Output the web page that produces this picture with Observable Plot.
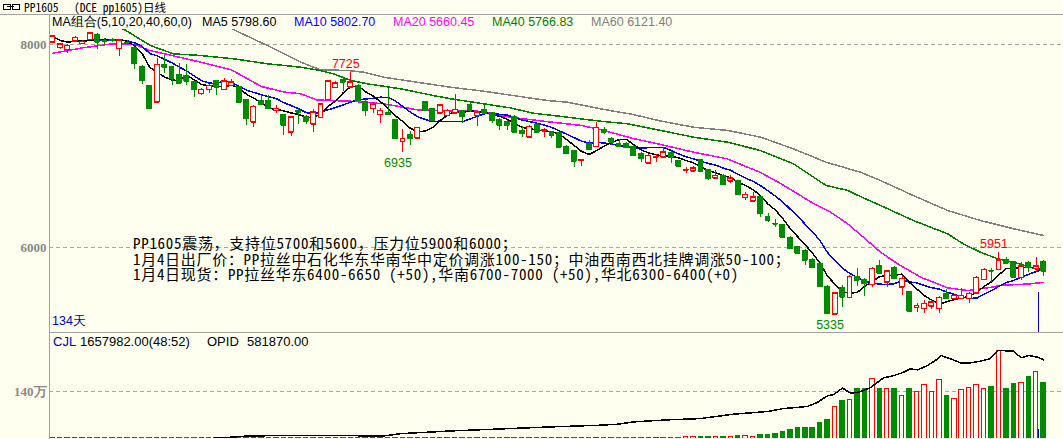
<!DOCTYPE html>
<html><head><meta charset="utf-8">
<script src="https://cdn.jsdelivr.net/npm/d3@7"></script>
<script src="https://cdn.jsdelivr.net/npm/@observablehq/plot@0.6"></script>
<style>
html,body{margin:0;padding:0;background:#FFFFF0;}
#wrap{position:relative;width:1063px;height:439px;background:#FFFFF0;overflow:hidden;font-family:"Liberation Sans",Arial,sans-serif;}
.abs{position:absolute;white-space:pre;line-height:1;}
#wrap svg{position:absolute;left:0;shape-rendering:crispEdges;}
.mono{font-family:"Noto Sans Mono CJK SC","Noto Sans CJK SC",monospace;}
</style></head><body><div id="wrap"></div>
<script>
// ---------------- data ----------------
const open  = [8025,7973,7949,8037,8012,8052,8096,8037,8047,7963,8022,7970,7786,7599,7436,7803,7786,7707,7697,7631,
7517,7557,7641,7557,7599,7589,7458,7237,7444,7451,7352,7310,7139,7352,7293,7215,7281,7458,7576,7655,
7582,7599,7434,7369,7313,7326,7261,7047,7116,7080,7434,7369,7326,7303,7326,7352,7402,7303,7359,7326,
7261,7244,7287,7149,7090,7212,7149,7139,7129,6998,6949,6857,7024,6998,7162,7074,7024,7024,6998,6926,
6833,6890,6893,6932,6853,6764,6755,6867,6768,6686,6712,6656,6656,6492,6459,6498,6308,6239,6220,6098,
6006,5973,5882,5842,5618,5345,5606,5507,5717,5678,5638,5816,5661,5803,5612,5563,5409,5399,5422,5399,
5547,5497,5497,5497,5553,5685,5774,5783,5882,5858,5704,5849,5793,5858];
const high  = [8085,8012,8003,8081,8042,8121,8111,8062,8062,8052,8042,7973,7796,7599,7865,7897,7791,7813,7806,7638,
7569,7609,7648,7665,7655,7589,7461,7402,7500,7500,7402,7313,7293,7362,7303,7359,7412,7648,7638,7668,
7725,7609,7451,7434,7372,7566,7264,7162,7149,7185,7441,7372,7412,7362,7510,7352,7434,7343,7402,7333,
7274,7254,7303,7195,7205,7225,7175,7146,7136,7008,6958,6867,7057,7237,7182,7090,7067,7040,7008,6942,
6919,6919,6991,6952,6860,6794,6801,6870,6771,6761,6722,6712,6663,6548,6545,6505,6338,6276,6229,6111,
6013,5983,5895,5855,5628,5560,5628,5727,5793,5697,5806,5875,5776,5816,5727,5569,5448,5481,5481,5520,
5586,5540,5596,5560,5717,5796,5793,5951,5908,5865,5855,5868,5908,5875];
const low   = [8015,7958,7914,8022,8003,8047,7958,7993,8027,7885,8003,7752,7609,7367,7431,7717,7599,7618,7599,7484,
7496,7520,7500,7554,7589,7431,7205,7188,7407,7367,7326,7106,7096,7215,7215,7139,7274,7451,7569,7543,
7579,7446,7293,7326,7227,7308,7072,6935,7008,7077,7343,7249,7323,7293,7323,7225,7348,7195,7323,7225,
7155,7155,7136,7090,7082,7136,7090,7074,6988,6919,6788,6804,6958,6993,7116,7008,6993,6983,6904,6843,
6830,6843,6890,6827,6796,6729,6742,6752,6663,6683,6614,6630,6520,6466,6456,6295,6249,6197,6101,5983,
5944,5826,5796,5614,5340,5335,5415,5500,5618,5520,5606,5747,5612,5692,5530,5372,5366,5350,5389,5350,
5495,5491,5491,5448,5550,5678,5661,5781,5846,5707,5678,5760,5760,5717];
const close = [8082,8003,7993,8067,8032,8116,8027,8035,8042,8045,8017,7813,7648,7369,7803,7779,7665,7621,7641,7557,
7557,7599,7582,7641,7631,7434,7271,7392,7412,7369,7369,7205,7287,7336,7247,7336,7412,7641,7621,7631,
7631,7451,7352,7409,7352,7310,7074,7074,7074,7182,7352,7254,7402,7352,7359,7293,7352,7336,7326,7254,
7205,7205,7139,7123,7195,7139,7162,7106,6991,6926,6853,6863,6965,7182,7139,7040,6998,6985,6909,6877,
6909,6896,6942,6886,6801,6771,6784,6755,6680,6712,6623,6686,6525,6525,6498,6335,6269,6232,6104,5990,
5947,5875,5803,5618,5350,5553,5513,5717,5678,5645,5793,5750,5770,5694,5694,5375,5431,5448,5464,5507,
5497,5530,5530,5547,5704,5783,5767,5875,5849,5710,5816,5803,5816,5770];
const volume = [5000,4000,4000,5000,4000,6000,5000,4000,4000,6000,5000,7000,7000,8000,8000,7000,6000,6000,6000,7000,
6000,6000,6000,7000,6000,8000,9000,9000,8000,8000,7000,9000,9000,8000,8000,9000,9000,10000,9000,9000,
10000,10000,10000,9000,10000,10000,12000,13000,12000,12000,14000,13000,12000,12000,13000,12000,12000,13000,12000,13000,
14000,14000,15000,15000,15000,15000,16000,16000,18000,18000,20000,19000,20000,22000,24000,25000,24000,25000,26000,27000,
26000,27000,28000,28000,29000,30000,30000,32000,34000,36000,45000,45000,75000,75000,45000,105000,105000,135000,205000,247000,
325000,325000,325000,476000,566000,948000,1129000,1159000,1460000,1460000,1782000,1460000,1481000,1460000,1280000,1460000,1379000,1581000,1400000,1752000,
1280000,1180000,1430000,1511000,1581000,1481000,1530000,2604000,1460000,1611000,1662000,1831000,1981000,1657982];

// moving averages (index, value)
const ma20Idx = [0,4,8,11,13,17,20,24,28,31,33.3,35.5,40,44.4,48.9,53.4,57,61.4,65.9,71,73.5,77.9,81.6,86,90.5,95,97.7,99.9,102.1,104.4,106.7,108.8,111.1,113.4,116.5,120.1,122.8,125.5,127.2,131.2,133];
const ma20Val = [7917,7970,8010,8003,7944,7878,7826,7752,7589,7535,7517,7456,7444,7419,7360,7346,7346,7287,7247,7205,7165,7077,7018,6942,6877,6742,6633,6535,6436,6351,6236,6104,5957,5842,5710,5606,5579,5606,5629,5645,5660.45];
const ma40Idx = [7.7,9.8,13.1,16.2,19.8,24.3,28.8,33.3,35.9,37.7,40,42.2,46.7,51.1,53.4,57.8,61.4,64.5,69.1,73.5,77.1,81.6,86,90.6,95,99.4,103.8,106.7,108.4,111.1,115.5,120.1,122.2,124.5,126.8,129,133];
const ma40Val = [8220,8141,7993,7911,7895,7862,7813,7779,7747,7714,7648,7616,7566,7500,7468,7419,7379,7326,7287,7247,7222,7156,7090,7040,6958,6828,6614,6565,6505,6417,6269,6138,6039,5957,5892,5858,5766.83];
const ma60Idx = [21.8,24.5,28.8,30.6,33.3,35.9,39.6,41.7,44.4,48.9,53.4,57.8,61.8,66.4,69.1,73.5,77.9,81.6,86,90.6,95,99.4,103.8,108.4,111.1,115.5,120.1,124.5,129,133];
const ma60Val = [8259,8141,7993,7927,7829,7754,7747,7730,7681,7631,7582,7543,7500,7451,7434,7369,7313,7249,7188,7156,7090,6975,6843,6745,6663,6515,6368,6269,6187,6121.4];
const oiIdx = [0,11.7,21.6,24.3,26.1,33.3,44.4,46.7,53.4,60.1,66.8,73.5,75.8,78,80.2,82.5,86.9,91.4,95.9,98.1,101.3,102.6,104,104.8,106,107.1,108.4,109.8,111.5,112.9,114.2,115.1,116.1,117.4,118.8,119.2,120.5,121.8,123.2,124.5,125.8,126.9,128.9,130,131,132.2,133];
const oiVal = [1000,1500,1500,11000,18600,23800,18600,35700,55800,70700,85600,98200,105700,122800,130200,137700,147300,180100,199400,221700,236600,266400,316200,323700,373500,333400,346000,378000,448000,465100,489600,514900,507500,539500,589300,613900,589300,559600,559600,571500,589300,651100,645900,596800,613900,601200,581870];

const priceTicks = [6000, 8000];
const volTicks = [1400000];
const volTickLabels = ["140万"];
const highMarks = [{i: 40, v: 7725}, {i: 127, v: 5951}];
const lowMarks  = [{i: 47, v: 6935}, {i: 105, v: 5335}];
const cursorMain = [{i: 132.3, top: 5562, bottom: 5150}];
const cursorVol  = [{i: 132.3, top: 260000, bottom: 0}];

const titleCode = "PP1605";
const titleName = "(DCE pp1605)日线";
const maLegend = [
  {text: "MA组合(5,10,20,40,60,0)", color: "#000000"},
  {text: "MA5 5798.60", color: "#000000"},
  {text: "MA10 5802.70", color: "#0000FF"},
  {text: "MA20 5660.45", color: "#FF00FF"},
  {text: "MA40 5766.83", color: "#008000"},
  {text: "MA60 6121.40", color: "#808080"}
];
const notes = [
  "PP1605震荡，支持位5700和5600，压力位5900和6000；",
  "1月4日出厂价：PP拉丝中石化华东华南华中定价调涨100-150；中油西南西北挂牌调涨50-100；",
  "1月4日现货：PP拉丝华东6400-6650 (+50),华南6700-7000 (+50),华北6300-6400(+0)"
];
const daysLabel = "134天";
const volLegend = [
  {text: "CJL", color: "#0000C0"},
  {text: "1657982.00(48:52)", color: "#000"},
  {text: "OPID", color: "#000"},
  {text: "581870.00", color: "#000"}
];

// ---------------- build ----------------
const BG = "#FFFFF0", RED = "#FF0000", GREEN = "#008C00", GRID = "#A8A8A8";
const candles = open.map((o, i) => ({i, open: o, high: high[i], low: low[i], close: close[i], volume: volume[i], up: close[i] >= o}));
const ma20 = ma20Idx.map((x, k) => ({i: x, v: ma20Val[k]}));
const ma40 = ma40Idx.map((x, k) => ({i: x, v: ma40Val[k]}));
const ma60 = ma60Idx.map((x, k) => ({i: x, v: ma60Val[k]}));
const oi = oiIdx.map((x, k) => ({i: x, v: oiVal[k]}));
const xDomain = [-0.443, 135.66];
const hw = 0.33;

const wrap = document.getElementById("wrap");
function addDiv(style, text, cls) {
  const d = document.createElement("div");
  d.className = "abs" + (cls ? " " + cls : "");
  Object.assign(d.style, style);
  if (text != null) d.textContent = text;
  wrap.appendChild(d);
  return d;
}

const main = Plot.plot({
  width: 1063, height: 319, marginLeft: 49, marginRight: 0, marginTop: 0, marginBottom: 0,
  x: {domain: xDomain, axis: null},
  y: {domain: [5155.7, 8298.5], axis: null},
  style: {background: "transparent", overflow: "hidden"},
  marks: [
    Plot.ruleY(priceTicks, {stroke: GRID, strokeDasharray: "4,3"}),
    Plot.axisY(priceTicks, {anchor: "left", tickSize: 0, tickPadding: 3, tickFormat: d => String(d), color: "#888", fill: "#888", fontWeight: "bold", fontSize: 13, fontFamily: "Liberation Serif", label: null}),
    Plot.line(ma60, {x: "i", y: "v", stroke: "#808080", clip: true}),
    Plot.line(ma40, {x: "i", y: "v", stroke: "#008000", clip: true}),
    Plot.line(ma20, {x: "i", y: "v", stroke: "#FF00FF", clip: true}),
    Plot.line(candles, Plot.windowY({k: 10, anchor: "end"}, {x: "i", y: "close", stroke: "#0000FF", clip: true})),
    Plot.line(candles, Plot.windowY({k: 5, anchor: "end"}, {x: "i", y: "close", stroke: "#000000", clip: true})),
    Plot.ruleX(candles, {x: "i", y1: "low", y2: "high", stroke: d => d.up ? RED : GREEN}),
    Plot.rect(candles, {x1: d => d.i - hw, x2: d => d.i + hw, y1: "open", y2: "close", fill: d => d.up ? BG : GREEN, stroke: d => d.up ? RED : GREEN}),
    Plot.ruleY(candles, {y: "open", x1: d => d.i - hw, x2: d => d.i + hw, stroke: d => d.up ? RED : GREEN}),
    Plot.ruleY(candles, {y: "close", x1: d => d.i - hw, x2: d => d.i + hw, stroke: d => d.up ? RED : GREEN}),
    Plot.ruleX(cursorMain, {x: "i", y1: "top", y2: "bottom", stroke: "#0000C0"}),
    Plot.text(highMarks, {x: "i", y: "v", text: d => String(d.v), dx: -5, dy: -9, fill: RED, fontSize: 12.5, fontFamily: "Liberation Sans"}),
    Plot.text(lowMarks, {x: "i", y: "v", text: d => String(d.v), dx: -5, dy: 10, fill: GREEN, fontSize: 12.5, fontFamily: "Liberation Sans"})
  ]
});
main.style.top = "14px";
wrap.appendChild(main);

const vol = Plot.plot({
  width: 1063, height: 105, marginLeft: 49, marginRight: 0, marginTop: 0, marginBottom: 0,
  x: {domain: xDomain, axis: null},
  y: {domain: [0, 3128000], axis: null},
  style: {background: "transparent", overflow: "hidden"},
  marks: [
    Plot.ruleY(volTicks, {stroke: GRID, strokeDasharray: "4,3"}),
    Plot.axisY(volTicks, {anchor: "left", tickSize: 0, tickPadding: 3, tickFormat: d => volTickLabels[volTicks.indexOf(d)], color: "#888", fill: "#888", fontWeight: "bold", fontSize: 13, fontFamily: "Liberation Serif", label: null}),
    Plot.rect(candles, {x1: d => d.i - 0.3, x2: d => d.i + 0.3, y1: 0, y2: "volume", fill: d => d.up ? BG : GREEN, stroke: d => d.up ? RED : GREEN}),
    Plot.ruleX(cursorVol, {x: "i", y1: "top", y2: "bottom", stroke: "#0000C0"})
  ]
});
vol.style.top = "333px";
wrap.appendChild(vol);

const oiPlot = Plot.plot({
  width: 1063, height: 105, marginLeft: 49, marginRight: 0, marginTop: 0, marginBottom: 0,
  x: {domain: xDomain, axis: null},
  y: {domain: [0, 776300], axis: null},
  style: {background: "transparent", overflow: "hidden"},
  marks: [Plot.line(oi, {x: "i", y: "v", stroke: "#000"})]
});
oiPlot.style.top = "333px";
wrap.appendChild(oiPlot);

// frame lines
addDiv({left: "0px", top: "14px", width: "1063px", height: "1px", background: "#A0A0A0"});
addDiv({left: "49px", top: "14px", width: "1px", height: "425px", background: "#A0A0A0"});
addDiv({left: "49px", top: "332px", width: "1014px", height: "1px", background: "#A0A0A0"});

// title
addDiv({left: "3px", top: "4px", width: "6px", height: "4px", border: "1px solid #000"});
addDiv({left: "12px", top: "4px", width: "6px", height: "4px", border: "1px solid #000"});
addDiv({left: "7px", top: "6px", width: "7px", height: "1px", background: "#000"});
addDiv({left: "24px", top: "2px", height: "11px", lineHeight: "11px", fontSize: "11.5px", color: "#000"}, titleCode, "mono");
addDiv({left: "74px", top: "2px", height: "11px", lineHeight: "11px", fontSize: "11.5px", color: "#000"}, titleName, "mono");

// legend band (covers the top of the price panel)
addDiv({left: "50px", top: "15px", width: "1013px", height: "14px", background: BG});
const legendX = [52, 202, 294, 393, 492, 591];
maLegend.forEach((m, k) => addDiv({left: legendX[k] + "px", top: "16px", height: "13px", lineHeight: "13px", fontSize: "12.5px", color: m.color}, m.text));

// notes: one block of three lines
addDiv({left: "133px", top: "235px", lineHeight: "15.5px", fontSize: "15px", letterSpacing: "0.7px", color: "#000"}, notes.join("\n"), "mono");

addDiv({left: "52px", top: "315px", height: "13px", lineHeight: "13px", fontSize: "12.5px", color: "#0000C0"}, daysLabel);
const volLegendX = [53, 80, 207, 247];
volLegend.forEach((m, k) => addDiv({left: volLegendX[k] + "px", top: "335px", height: "14px", lineHeight: "14px", fontSize: "13px", color: m.color}, m.text));
</script></body></html>
